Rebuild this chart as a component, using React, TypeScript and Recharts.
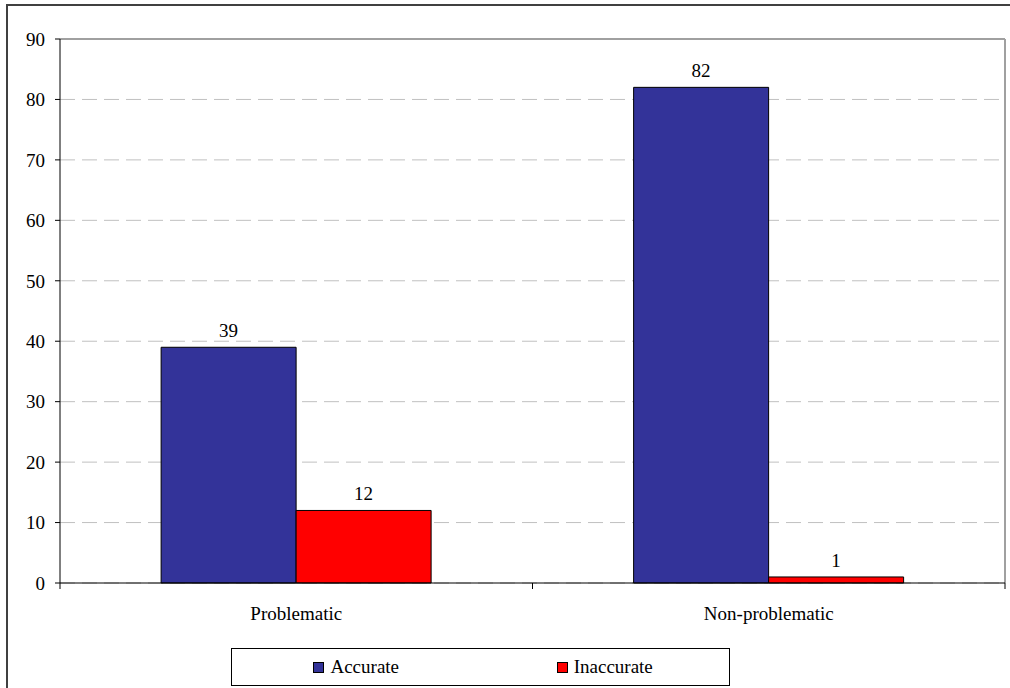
import { BarChart, Bar, XAxis, YAxis, CartesianGrid, Legend, LabelList } from "recharts";

const categories = ["Problematic", "Non-problematic"];
const accurate = [39, 82];
const inaccurate = [12, 1];
const yTicks = [0, 10, 20, 30, 40, 50, 60, 70, 80, 90];

const data = categories.map((name, i) => ({
  name,
  Accurate: accurate[i],
  Inaccurate: inaccurate[i],
}));

const FONT = "Liberation Serif, DejaVu Serif, serif";
const BAND = 945 / categories.length;

const CategoryTick = (props: any) => {
  const { x, y, payload } = props;
  return (
    <g>
      <line x1={x - BAND / 2} y1={y} x2={x - BAND / 2} y2={y + 6} stroke="#000" />
      <line x1={x + BAND / 2} y1={y} x2={x + BAND / 2} y2={y + 6} stroke="#000" />
      <text x={x} y={y + 37} textAnchor="middle" style={{ fontFamily: FONT }} fontSize={19} fill="#000">
        {payload.value}
      </text>
    </g>
  );
};

const LegendBox = () => {
  const items = [
    { label: "Accurate", color: "#333399" },
    { label: "Inaccurate", color: "#FF0000" },
  ];
  return (
    <div
      style={{
        width: 497,
        height: 36,
        border: "1px solid #000",
        display: "flex",
        alignItems: "center",
        background: "#fff",
        fontFamily: FONT,
        fontSize: 19,
        color: "#000",
      }}
    >
      {items.map((it) => (
        <div key={it.label} style={{ flex: 1, display: "flex", justifyContent: "center", alignItems: "center" }}>
          <span
            style={{
              display: "inline-block",
              width: 9,
              height: 9,
              background: it.color,
              border: "1px solid #000",
              marginRight: 6,
            }}
          />
          <span>{it.label}</span>
        </div>
      ))}
    </div>
  );
};

export default function App() {
  return (
    <div style={{ position: "fixed", left: 0, top: 0, width: 1010, height: 688, background: "#fff", overflow: "hidden", fontFamily: FONT }}>
      <div
        style={{
          position: "absolute",
          left: 6,
          top: 4,
          width: 1100,
          height: 800,
          border: "2px solid #404040",
        }}
      />
      <div style={{ position: "absolute", left: 0, top: 0 }}>
        <BarChart
          width={1010}
          height={688}
          data={data}
          margin={{ top: 39, right: 5, bottom: 0, left: 0 }}
          barCategoryGap="21.4%"
          barGap={0}
          style={{ fontFamily: FONT }}
        >
          <CartesianGrid vertical={false} stroke="#c0c0c0" strokeDasharray="15 7" />
          <CartesianGrid horizontalPoints={[39]} verticalPoints={[1005]} stroke="#a0a0a0" strokeWidth={2} />
          <XAxis
            dataKey="name"
            axisLine={{ stroke: "#000" }}
            tickLine={false}
            tickSize={0}
            tickMargin={0}
            height={65}
            tick={<CategoryTick />}
            interval={0}
          />
          <YAxis
            domain={[0, 90]}
            ticks={yTicks}
            width={60}
            axisLine={{ stroke: "#000" }}
            tickLine={{ stroke: "#000" }}
            tickSize={5}
            tickMargin={10}
            tick={{ fontFamily: FONT, fontSize: 19, fill: "#000" }}
            interval={0}
          />
          <Legend
            verticalAlign="bottom"
            height={40}
            content={<LegendBox />}
            wrapperStyle={{ left: 231, width: 499 }}
          />
          <Bar dataKey="Accurate" fill="#333399" stroke="#000" strokeWidth={1} isAnimationActive={false}>
            <LabelList dataKey="Accurate" position="top" offset={10} style={{ fontFamily: FONT }} fontSize={19} fill="#000" />
          </Bar>
          <Bar dataKey="Inaccurate" fill="#FF0000" stroke="#000" strokeWidth={1} isAnimationActive={false}>
            <LabelList dataKey="Inaccurate" position="top" offset={10} style={{ fontFamily: FONT }} fontSize={19} fill="#000" />
          </Bar>
        </BarChart>
      </div>
    </div>
  );
}
